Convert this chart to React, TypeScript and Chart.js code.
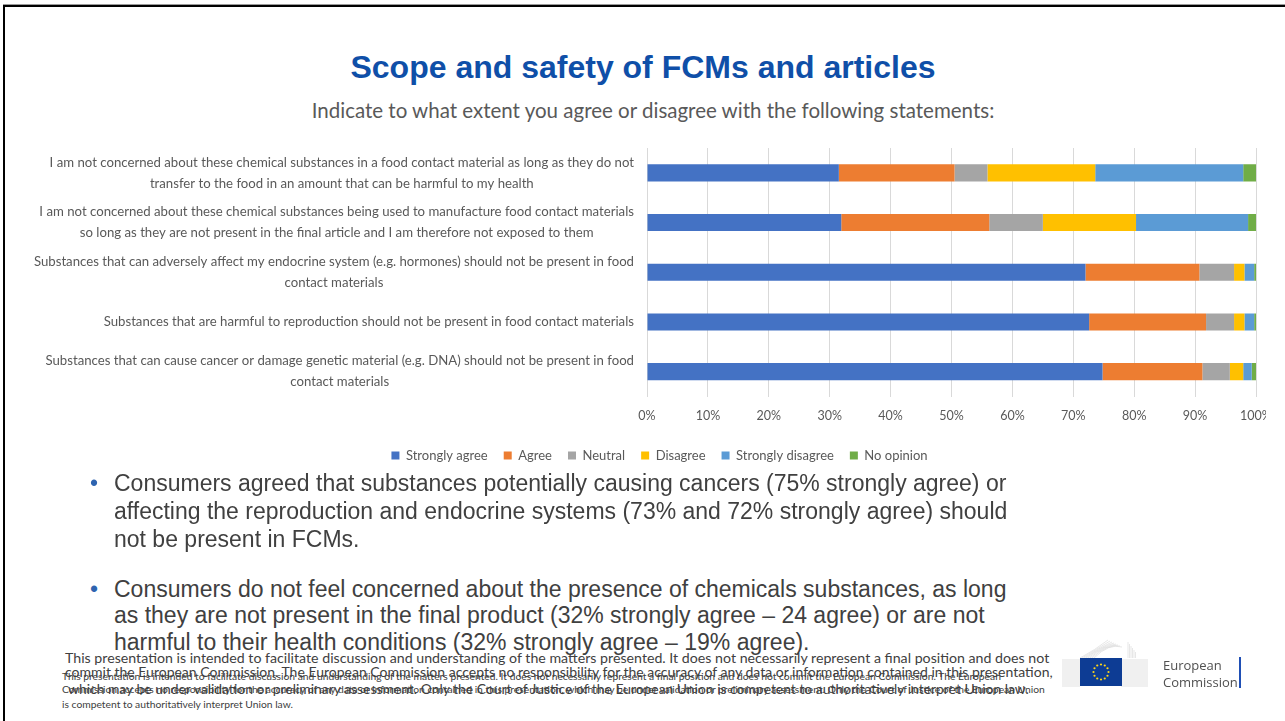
import React, { useEffect, useRef } from "react";
import { Chart, registerables } from "chart.js";

Chart.register(...registerables);

const categories: string[][] = [
  [
    "I am not concerned about these chemical substances in a food contact material as long as they do not",
    "transfer to the food in an amount that can be harmful to my health",
  ],
  [
    "I am not concerned about these chemical substances being used to manufacture food contact materials",
    "so long as they are not present in the final article and I am therefore not exposed to them",
  ],
  [
    "Substances that can adversely affect my endocrine system (e.g. hormones) should not be present in food",
    "contact materials",
  ],
  ["Substances that are harmful to reproduction should not be present in food contact materials"],
  [
    "Substances that can cause cancer or damage genetic material (e.g. DNA) should not be present in food",
    "contact materials",
  ],
];

const seriesNames = ["Strongly agree", "Agree", "Neutral", "Disagree", "Strongly disagree", "No opinion"];
const stronglyAgree = [31.5, 31.9, 72.0, 72.6, 74.8];
const agree = [19.0, 24.3, 18.7, 19.2, 16.4];
const neutral = [5.4, 8.8, 5.7, 4.6, 4.5];
const disagree = [17.7, 15.3, 1.7, 1.7, 2.2];
const stronglyDisagree = [24.3, 18.4, 1.6, 1.6, 1.4];
const noOpinion = [2.1, 1.3, 0.3, 0.3, 0.7];
const seriesColors = ["#4472C4", "#ED7D31", "#A5A5A5", "#FFC000", "#5B9BD5", "#70AD47"];
const xTickValues = [0, 10, 20, 30, 40, 50, 60, 70, 80, 90, 100];

const CHART_FONT = "Lato, 'Open Sans', sans-serif";
const LABEL_COLOR = "#595959";

const yLabelPlugin = {
  id: "yLabelPlugin",
  afterDraw(chart: any) {
    const yScale = chart.scales.y;
    const ctx = chart.ctx;
    ctx.save();
    ctx.font = `13.2px ${CHART_FONT}`;
    ctx.fillStyle = LABEL_COLOR;
    ctx.textAlign = "center";
    ctx.textBaseline = "middle";
    const right = chart.chartArea.left - 13;
    const lh = 21;
    categories.forEach((lines, i) => {
      const w = Math.max(...lines.map((l) => ctx.measureText(l).width));
      const cx = right - w / 2;
      const cy = yScale.getPixelForValue(i);
      lines.forEach((l, j) => {
        ctx.fillText(l, cx, cy + (j - (lines.length - 1) / 2) * lh);
      });
    });
    ctx.restore();
  },
};

function BarChart() {
  const ref = useRef<HTMLCanvasElement | null>(null);
  useEffect(() => {
    if (!ref.current) return;
    const values = [stronglyAgree, agree, neutral, disagree, stronglyDisagree, noOpinion];
    const chart = new Chart(ref.current, {
      type: "bar",
      data: {
        labels: categories.map((c) => c.join(" ")),
        datasets: seriesNames.map((name, i) => ({
          label: name,
          data: values[i],
          backgroundColor: seriesColors[i],
          borderWidth: 0,
          barPercentage: 0.345,
          categoryPercentage: 1,
        })),
      },
      options: {
        indexAxis: "y",
        responsive: false,
        animation: false,
        layout: { padding: { top: 8, left: 63, right: 10, bottom: 0 } },
        plugins: {
          legend: {
            position: "bottom",
            labels: {
              boxWidth: 8,
              boxHeight: 8,
              padding: 16,
              color: LABEL_COLOR,
              font: { family: CHART_FONT, size: 13 },
            },
          },
          tooltip: { enabled: false },
          title: { display: false },
        },
        scales: {
          x: {
            stacked: true,
            min: 0,
            max: 100,
            afterBuildTicks: (scale: any) => {
              scale.ticks = xTickValues.map((v) => ({ value: v }));
            },
            afterFit: (scale: any) => {
              scale.paddingLeft = 0;
              scale.paddingRight = 0;
              scale.height -= 1.5;
            },
            grid: { color: "#D9D9D9", drawTicks: false },
            border: { display: false },
            ticks: {
              padding: 11.5,
              color: LABEL_COLOR,
              font: { family: CHART_FONT, size: 12.5 },
              callback: (v: any) => `${v}%`,
              maxRotation: 0,
            },
          },
          y: {
            stacked: true,
            grid: { display: false },
            border: { display: false },
            ticks: { display: false },
            afterFit: (scale: any) => {
              scale.width = 647 - 63;
            },
          },
        },
      },
      plugins: [yLabelPlugin],
    } as any);
    return () => chart.destroy();
  }, []);
  return (
    <canvas
      ref={ref}
      width={1266}
      height={332}
      style={{ position: "absolute", left: 0, top: 140, width: 1266, height: 332 }}
    />
  );
}

function T(props: {
  x: number;
  y: number;
  size: number;
  lh?: number;
  font?: string;
  color?: string;
  bold?: boolean;
  children: React.ReactNode;
}) {
  const lh = props.lh ?? Math.round(props.size * 1.25);
  return (
    <div
      style={{
        position: "absolute",
        left: props.x,
        top: props.y - lh / 2,
        fontSize: props.size,
        lineHeight: `${lh}px`,
        fontFamily: props.font ?? "'Liberation Sans', Arial, sans-serif",
        color: props.color ?? "#404040",
        fontWeight: props.bold ? 700 : 400,
        whiteSpace: "nowrap",
      }}
    >
      {props.children}
    </div>
  );
}

function CT(props: { cx: number; y: number; size: number; font: string; color: string; bold?: boolean; children: React.ReactNode }) {
  const lh = Math.round(props.size * 1.25);
  return (
    <div
      style={{
        position: "absolute",
        left: props.cx - 600,
        width: 1200,
        textAlign: "center",
        top: props.y - lh / 2,
        fontSize: props.size,
        lineHeight: `${lh}px`,
        fontFamily: props.font,
        color: props.color,
        fontWeight: props.bold ? 700 : 400,
        whiteSpace: "nowrap",
      }}
    >
      {props.children}
    </div>
  );
}

const bullet1 = [
  "Consumers agreed that substances potentially causing cancers (75% strongly agree) or",
  "affecting the reproduction and endocrine systems (73% and 72% strongly agree) should",
  "not be present in FCMs.",
];
const bullet2 = [
  "Consumers do not feel concerned about the presence of chemicals substances, as long",
  "as they are not present in the final product (32% strongly agree – 24 agree) or are not",
  "harmful to their health conditions (32% strongly agree – 19% agree).",
];
const footerLarge = [
  "This presentation is intended to facilitate discussion and understanding of the matters presented. It does not necessarily represent a final position and does not",
  "commit the European Commission. The European Commission accepts no responsibility for the accuracy of any data or information contained in this presentation,",
  "which may be under validation or preliminary assessment. Only the Court of Justice of the European Union is competent to authoritatively interpret Union law.",
];
const footerSmall = [
  "This presentation is intended to facilitate discussion and understanding of the matters presented. It does not necessarily represent a final position and does not commit the European Commission. The European",
  "Commission accepts no responsibility for the accuracy of any data or information contained in this presentation, which may be under validation or preliminary assessment. Only the Court of Justice of the European Union",
  "is competent to authoritatively interpret Union law.",
];

function EcLogo() {
  const stars = Array.from({ length: 12 }, (_, i) => {
    const a = (i / 12) * Math.PI * 2;
    return { x: 1101 + Math.cos(a) * 7.5, y: 672 + Math.sin(a) * 7.5 };
  });
  const lines = Array.from({ length: 14 }, (_, i) => i);
  return (
    <svg width={1285} height={721} style={{ position: "absolute", left: 0, top: 0, pointerEvents: "none" }}>
      {lines.map((i) => (
        <line key={"l" + i} x1={1062} x2={1080} y1={660 + i * 2} y2={660 + i * 2} stroke="#d4d4d4" strokeWidth={0.7} />
      ))}
      {lines.map((i) => (
        <line key={"r" + i} x1={1121} x2={1148} y1={660 + i * 2} y2={660 + i * 2} stroke="#d4d4d4" strokeWidth={0.7} />
      ))}
      {Array.from({ length: 8 }, (_, i) => (
        <path key={"c" + i} d={`M ${1080 + i * 2} 658 Q ${1095 + i * 2} ${650 - i} ${1108 + i * 2} ${640 + i}`} stroke="#dcdcdc" strokeWidth={0.7} fill="none" />
      ))}
      {Array.from({ length: 6 }, (_, i) => (
        <line key={"v" + i} x1={1128 + i * 1.5} x2={1128 + i * 1.5} y1={642 + i * 2} y2={658} stroke="#dcdcdc" strokeWidth={0.7} />
      ))}
      <rect x={1080} y={658} width={42} height={28} fill="#0D3C94" />
      {stars.map((s, i) => (
        <circle key={"s" + i} cx={s.x} cy={s.y} r={1.1} fill="#FFD617" />
      ))}
      <rect x={1239} y={657} width={2} height={31} fill="#1F4FB5" />
    </svg>
  );
}

export default function App() {
  return (
    <div
      style={{
        position: "absolute",
        left: 0,
        top: 0,
        width: 1285,
        height: 721,
        overflow: "hidden",
        background: "#ffffff",
      }}
    >
      <div
        style={{
          position: "absolute",
          left: 3,
          top: 4,
          width: 1300,
          height: 740,
          borderTop: "1px solid #9a9a9a",
        }}
      />
      <div
        style={{
          position: "absolute",
          left: 3,
          top: 5,
          width: 1300,
          height: 740,
          borderTop: "2px solid #000",
          borderLeft: "2px solid #000",
        }}
      />
      <CT cx={643} y={67} size={32} font="'Liberation Sans', Arial, sans-serif" color="#0F4FA8" bold>
        Scope and safety of FCMs and articles
      </CT>
      <CT cx={653} y={110} size={20.5} font={CHART_FONT} color="#595959">
        Indicate to what extent you agree or disagree with the following statements:
      </CT>
      <BarChart />
      <T x={90} y={483} size={23} color="#2E64B0">•</T>
      {bullet1.map((l, i) => (
        <T key={"b1" + i} x={114} y={483 + i * 28} size={23}>
          {l}
        </T>
      ))}
      <T x={90} y={589} size={23} color="#2E64B0">•</T>
      {bullet2.map((l, i) => (
        <T key={"b2" + i} x={114} y={589 + i * 26.5} size={23}>
          {l}
        </T>
      ))}
      {footerLarge.map((l, i) => (
        <T key={"fl" + i} x={i === 2 ? 68 : 65} y={[658, 672, 688][i]} size={[14.2, 14.0, 13.9][i]} font={CHART_FONT}>
          {l}
        </T>
      ))}
      {footerSmall.map((l, i) => (
        <T key={"fs" + i} x={62} y={[676, 689, 704][i]} size={10.3} font={CHART_FONT}>
          {l}
        </T>
      ))}
      <EcLogo />
      <T x={1163} y={665} size={13} font="'Open Sans', sans-serif" color="#505050">European</T>
      <T x={1163} y={682} size={13} font="'Open Sans', sans-serif" color="#505050">Commission</T>
    </div>
  );
}
